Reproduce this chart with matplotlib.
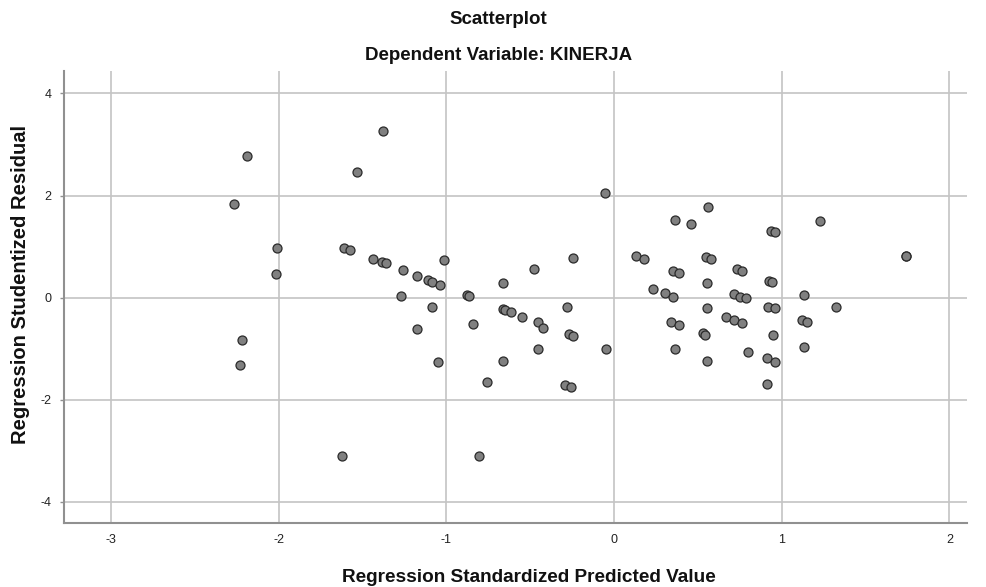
import matplotlib
matplotlib.use("Agg")
import matplotlib.pyplot as plt

predicted = [
    -2.19, -1.53, -1.376, -2.266, -2.008, -2.017, -1.612, -1.572, -1.435, -1.385,
    -1.361, -1.26, -1.175, -1.109, -1.083, -1.036, -1.014, -1.272, -0.875, -0.863,
    -0.664, -0.477, -0.243, -0.056, 0.131, 0.179, 0.234, -1.085, -0.664, -0.648,
    -0.616, -0.278, -1.175, -1.049, -0.839, -0.549, -0.451, -0.421, -0.266, -0.243,
    -0.451, -0.046, -0.664, -0.757, -0.29, -0.255, -0.803, -2.216, -2.228, -1.622,
    0.562, 0.364, 0.457, 0.936, 0.962, 1.226, 1.741, 1.741, 0.549, 0.577,
    0.35, 0.39, 0.735, 0.763, 0.553, 0.926, 0.942, 0.306, 0.352, 0.716,
    0.751, 0.787, 0.553, 0.918, 0.962, 1.135, 1.324, 0.34, 0.39, 0.668,
    0.717, 0.763, 0.533, 0.543, 0.948, 1.123, 1.149, 0.364, 0.797, 1.135,
    0.553, 0.912, 0.962, 0.912,
]
residual = [
    2.77, 2.46, 3.26, 1.83, 0.975, 0.47, 0.975, 0.94, 0.75, 0.70,
    0.675, 0.53, 0.43, 0.343, 0.31, 0.245, 0.73, 0.03, 0.04, 0.03,
    0.29, 0.56, 0.77, 2.05, 0.81, 0.75, 0.17, -0.19, -0.215, -0.245,
    -0.284, -0.19, -0.61, -1.257, -0.513, -0.38, -0.486, -0.59, -0.72, -0.76,
    -1.0, -1.01, -1.24, -1.66, -1.71, -1.75, -3.10, -0.83, -1.32, -3.10,
    1.78, 1.52, 1.44, 1.31, 1.28, 1.50, 0.82, 0.82, 0.79, 0.755,
    0.525, 0.486, 0.55, 0.525, 0.284, 0.32, 0.30, 0.08, 0.016, 0.075,
    0.02, -0.016, -0.21, -0.18, -0.21, 0.05, -0.18, -0.47, -0.53, -0.376,
    -0.44, -0.49, -0.70, -0.73, -0.735, -0.44, -0.47, -1.015, -1.07, -0.976,
    -1.244, -1.19, -1.257, -1.70,
]
x_ticks = [-3, -2, -1, 0, 1, 2]
y_ticks = [-4, -2, 0, 2, 4]

plt.rcParams['font.family'] = ['Liberation Sans', 'DejaVu Sans']

fig = plt.figure(figsize=(9.87, 5.87), dpi=100)
ax = fig.add_axes([0.0648, 0.109, 0.915, 0.77])

ax.scatter(predicted, residual, s=42, facecolor='#808080', edgecolor='#2a2a2a',
           linewidth=0.9, zorder=3)

ax.set_xlim(-3.28, 2.105)
ax.set_ylim(-4.42, 4.44)
ax.set_xticks(x_ticks)
ax.set_yticks(y_ticks)
ax.set_xticklabels([str(t) for t in x_ticks])
ax.set_yticklabels([str(t) for t in y_ticks])
ax.grid(True, color='#c4c4c4', linewidth=1.2, zorder=0)
ax.set_axisbelow(True)

for side in ['top', 'right']:
    ax.spines[side].set_visible(False)
for side in ['left', 'bottom']:
    ax.spines[side].set_color('#909090')
    ax.spines[side].set_linewidth(1.5)

ax.tick_params(axis='both', labelsize=9, colors='#909090', labelcolor='#222222',
               length=3, width=1)
ax.tick_params(axis='x', length=0, pad=8)
ax.tick_params(axis='y', pad=6)

fig.text(0.505, 0.966, 'Scatterplot', ha='center', va='center',
         fontsize=13.5, fontweight='bold', color='#111111')
fig.text(0.505, 0.906, 'Dependent Variable: KINERJA', ha='center', va='center',
         fontsize=13.5, fontweight='bold', color='#111111')
fig.text(0.536, 0.017, 'Regression Standardized Predicted Value', ha='center',
         va='center', fontsize=13.7, fontweight='bold', color='#111111')
fig.text(0.021, 0.516, 'Regression Studentized Residual', ha='center',
         va='center', rotation=90, fontsize=14.5, fontweight='bold', color='#111111')

fig.savefig('out.png', dpi=100)
